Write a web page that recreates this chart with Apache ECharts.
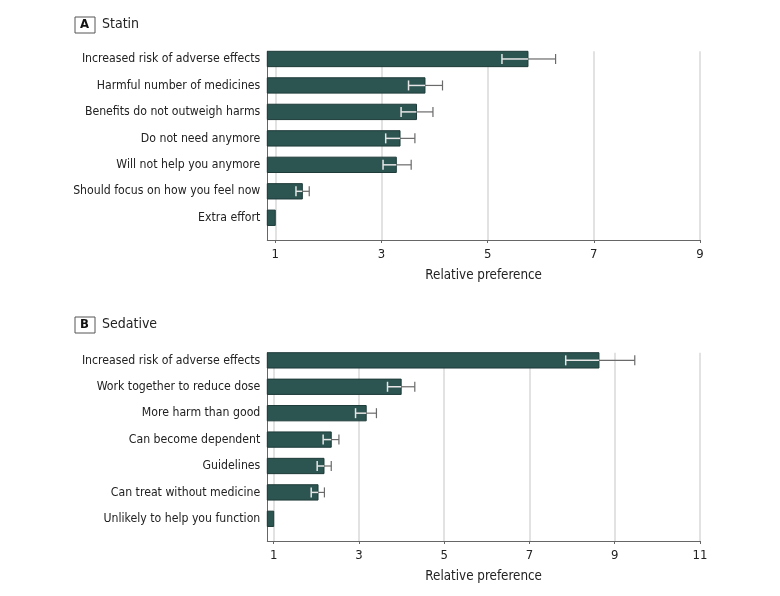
<!DOCTYPE html>
<html>
<head>
<meta charset="utf-8">
<script src="https://cdn.jsdelivr.net/npm/echarts@6/dist/echarts.min.js"></script>
<style>html,body{margin:0;padding:0;background:#fff}#c{width:780px;height:596px}</style>
</head>
<body>
<div id="c"></div>
<script>
// Panel A: Statin
const statinCategories = ["Increased risk of adverse effects","Harmful number of medicines","Benefits do not outweigh harms","Do not need anymore","Will not help you anymore","Should focus on how you feel now","Extra effort"];
const statinValues = [5.76, 3.82, 3.66, 3.35, 3.28, 1.51, 1.0];
const statinLow    = [5.27, 3.51, 3.37, 3.08, 3.03, 1.39, null];
const statinHigh   = [6.28, 4.15, 3.97, 3.63, 3.56, 1.64, null];
const statinTicks  = [1, 3, 5, 7, 9];

// Panel B: Sedative
const sedativeCategories = ["Increased risk of adverse effects","Work together to reduce dose","More harm than good","Can become dependent","Guidelines","Can treat without medicine","Unlikely to help you function"];
const sedativeValues = [8.63, 3.99, 3.17, 2.35, 2.18, 2.04, 1.0];
const sedativeLow    = [7.85, 3.67, 2.92, 2.16, 2.02, 1.88, null];
const sedativeHigh   = [9.47, 4.31, 3.41, 2.53, 2.35, 2.19, null];
const sedativeTicks  = [1, 3, 5, 7, 9, 11];

const FONT = "'Liberation Sans Narrow','DejaVu Sans Condensed','Noto Sans',sans-serif";
const XMIN = 0.85;
const BAR_FILL = '#2c5451';
const BAR_STROKE = '#1e3b39';

function barData(vals){ return vals.map((v,i)=>[v,i]); }
function errData(vals, lo, hi){
  const out=[]; vals.forEach((v,i)=>{ if(lo[i]!=null) out.push([lo[i], i, hi[i], v]); }); return out;
}

function barRender(params, api){
  const v = api.value(0), i = api.value(1);
  const s = api.coord([XMIN, i]);
  const e = api.coord([v, i]);
  const h = api.size([0,1])[1] * 0.58;
  return {type:'rect', shape:{x:s[0], y:s[1]-h/2, width:e[0]-s[0], height:h},
    style:{fill:BAR_FILL, stroke:BAR_STROKE, lineWidth:1}};
}
function errRender(params, api){
  const lo = api.value(0), i = api.value(1), hi = api.value(2), v = api.value(3);
  const pl = api.coord([lo, i]), pv = api.coord([v, i]), ph = api.coord([hi, i]);
  const ch = 5;
  const y = pl[1];
  return {type:'group', children:[
    {type:'line', shape:{x1:pl[0], y1:y, x2:pv[0], y2:y}, style:{stroke:'#e6e6e6', lineWidth:1.5}},
    {type:'line', shape:{x1:pl[0], y1:y-ch, x2:pl[0], y2:y+ch}, style:{stroke:'#e6e6e6', lineWidth:1.5}},
    {type:'line', shape:{x1:pv[0], y1:y, x2:ph[0], y2:y}, style:{stroke:'#6a6a6a', lineWidth:1.2}},
    {type:'line', shape:{x1:ph[0], y1:y-ch, x2:ph[0], y2:y+ch}, style:{stroke:'#6a6a6a', lineWidth:1.2}}
  ]};
}

function xAxisCfg(gridIndex, max, ticks){
  return {
    type:'value', gridIndex, min:XMIN, max,
    name:'Relative preference', nameLocation:'middle', nameGap:29,
    nameTextStyle:{fontFamily:FONT, fontSize:13.3, color:'#222'},
    axisLine:{show:true, onZero:false, lineStyle:{color:'#666', width:1}},
    axisTick:{show:true, length:3, customValues:ticks, lineStyle:{color:'#666'}},
    axisLabel:{customValues:ticks, margin:8, fontFamily:FONT, fontSize:13, color:'#222'},
    splitLine:{show:true, lineStyle:{color:'#d9d9d9', width:1.5}}
  };
}
function yAxisCfg(gridIndex, cats){
  return {
    type:'value', gridIndex, inverse:true, min:-0.29, max:6.84,
    axisLine:{show:true, onZero:false, lineStyle:{color:'#666', width:1}},
    axisTick:{show:false},
    splitLine:{show:false},
    axisLabel:{customValues:[0,1,2,3,4,5,6], margin:7, fontFamily:FONT, fontSize:12.2, color:'#222',
      formatter:(val)=>cats[Math.round(val)]}
  };
}

function panelTitle(letter, text, top){
  return [
    {type:'rect', left:74.5, top:top, shape:{width:20, height:16}, style:{fill:'#fff', stroke:'#555', lineWidth:1}},
    {type:'text', left:80, top:top+1.5, style:{text:letter, font:"bold 13px "+FONT, fill:'#111'}},
    {type:'text', left:102, top:top+0.5, style:{text:text, font:"14px "+FONT, fill:'#222'}}
  ];
}

const chart = echarts.init(document.getElementById('c'), null, {renderer:'canvas'});
chart.setOption({
  animation:false,
  backgroundColor:'#fff',
  grid:[
    {left:267.3, width:432.7, top:51.3, height:188.7},
    {left:267.3, width:432.7, top:352.7, height:188.3}
  ],
  xAxis:[ xAxisCfg(0, 9, statinTicks), xAxisCfg(1, 11, sedativeTicks) ],
  yAxis:[ yAxisCfg(0, statinCategories), yAxisCfg(1, sedativeCategories) ],
  graphic: panelTitle('A','Statin',16.5).concat(panelTitle('B','Sedative',316.5)),
  series:[
    {type:'custom', xAxisIndex:0, yAxisIndex:0, data:barData(statinValues), encode:{x:0,y:1}, renderItem:barRender, z:2},
    {type:'custom', xAxisIndex:0, yAxisIndex:0, data:errData(statinValues,statinLow,statinHigh), encode:{x:[0,2],y:1}, renderItem:errRender, z:3},
    {type:'custom', xAxisIndex:1, yAxisIndex:1, data:barData(sedativeValues), encode:{x:0,y:1}, renderItem:barRender, z:2},
    {type:'custom', xAxisIndex:1, yAxisIndex:1, data:errData(sedativeValues,sedativeLow,sedativeHigh), encode:{x:[0,2],y:1}, renderItem:errRender, z:3}
  ]
});
</script>
</body>
</html>
